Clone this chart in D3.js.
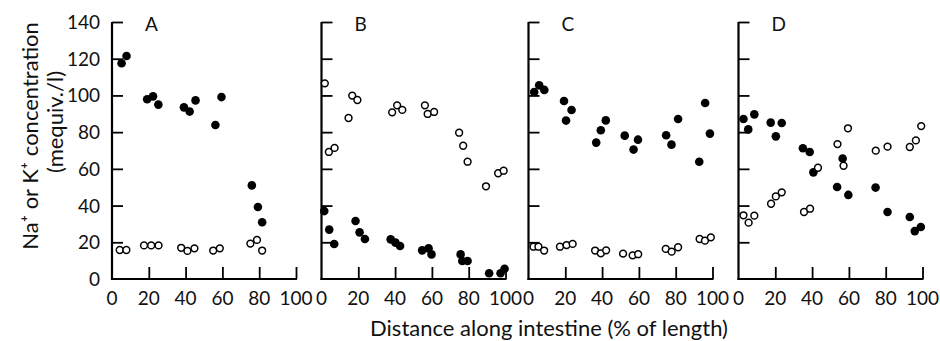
<!DOCTYPE html>
<html><head><meta charset="utf-8">
<script src="https://cdn.jsdelivr.net/npm/d3@7"></script>
<style>html,body{margin:0;padding:0;background:#fff;}svg{display:block;}</style>
</head><body>
<script>
const panelNames = ["A","B","C","D"];
const xTicks = [0,20,40,60,80,100];
const yTicks = [0,20,40,60,80,100,120,140];
const yTitle1 = "Na⁺ or K⁺ concentration";
const yTitle2 = "(mequiv./l)";
const xTitle = "Distance along intestine (% of length)";

const aFilled = [[5.2,117.5],[7.9,121.5],[19.1,97.9],[22.3,99.5],[25.2,95],[39.1,93.5],[42.2,91.2],[45.4,97.3],[56.2,83.9],[59.5,99.1],[76,51],[79.3,39.2],[81.6,30.9]];
const aOpen = [[4.2,15.8],[7.8,15.8],[17.4,18.3],[21.3,18.3],[25.3,18.3],[37.6,17],[41,15.3],[44.8,16.7],[55,15.5],[58.6,16.7],[75.2,19.3],[78.8,21.3],[81.6,15.5]];
const bFilled = [[1.5,37],[4.2,26.9],[6.9,19.1],[18.5,31.6],[20.7,25.4],[23.6,21.8],[37.6,21.6],[40.2,19.8],[42.7,18],[54.7,15.6],[58.2,16.7],[59.8,13.4],[75.6,13.4],[76.5,9.8],[79.4,9.8],[91.1,3.1],[97.3,3.1],[99.5,5.6]];
const bOpen = [[1.8,106.6],[4,69.2],[7.1,71.4],[14.7,87.7],[16.7,99.9],[19.5,97.5],[38.4,90.8],[41.1,94.6],[43.9,92.1],[56.2,94.6],[57.7,89.9],[61.2,91],[74.8,79.7],[77,72.6],[79.4,63.9],[89.4,50.5],[96,57.6],[99,59]];
const cFilled = [[3.1,101.9],[5.8,105.5],[8.6,103],[19.3,97],[20.4,86.3],[23.4,92.1],[36.8,74.3],[39.3,81],[42,86.4],[52.3,78.1],[57.1,70.5],[59.5,75.9],[74.8,78.3],[77.7,73.2],[81.3,87.2],[92.8,63.9],[96,95.9],[98.6,79.2]];
const cOpen = [[2.7,17.6],[5.4,17.6],[8.5,15.5],[17.1,17.6],[20.7,18.5],[24,19.1],[36.2,15.5],[39.3,14],[42.2,15.6],[51.4,13.8],[56.6,12.9],[59.6,13.5],[74.6,16.4],[77.8,14.9],[81.3,17.3],[93,21.8],[95.9,20.9],[99.1,22.7]];
const dFilled = [[2.7,87.2],[5.3,81.5],[8.6,89.7],[17.5,85.2],[20.3,77.7],[23.5,85],[35,71.2],[38.7,69.2],[40.7,58.1],[53.6,50.1],[56.6,65.6],[59.7,45.8],[74.5,49.8],[81,36.5],[93.1,33.8],[95.8,26.1],[99.1,28.3]];
const dOpen = [[2.7,34.7],[5.5,30.7],[8.6,34.5],[17.7,41],[20.3,45],[23.5,47.2],[35.6,36.5],[38.9,38.3],[43.2,60.6],[53.8,73.5],[57.1,61.7],[59.5,82.1],[74.6,69.9],[81,72.1],[93.1,71.9],[96.4,75.5],[99.3,83.3]];

const filledSets = [aFilled,bFilled,cFilled,dFilled];
const openSets = [aOpen,bOpen,cOpen,dOpen];

const W = 940, H = 341;
const font = "Lato, 'Open Sans', sans-serif";
const svg = d3.select("body").append("svg").attr("width",W).attr("height",H);

const y = d3.scaleLinear().domain([0,140]).range([279,22]);
const panelX0 = [112, 321.5, 528.5, 738.5];
const panelW = 184;

panelNames.forEach((name,i)=>{
  const x = d3.scaleLinear().domain([0,100]).range([panelX0[i], panelX0[i]+panelW]);
  const g = svg.append("g");
  const ya = g.append("g").attr("transform",`translate(${panelX0[i]},0)`)
    .call(d3.axisRight(y).tickValues(yTicks).tickSize(11).tickFormat(""));
  ya.select(".domain").remove();
  ya.selectAll(".tick line").attr("stroke","#000").attr("stroke-width",1.8);
  ya.selectAll(".tick").filter(d=>d===0).remove();
  g.append("line").attr("x1",panelX0[i]).attr("x2",panelX0[i])
    .attr("y1",y(0)+1).attr("y2",y(140)).attr("stroke","#000").attr("stroke-width",2.2);
  const xa = g.append("g").attr("transform",`translate(0,${y(0)})`)
    .call(d3.axisTop(x).tickValues(xTicks).tickSize(12).tickFormat(""));
  xa.select(".domain").remove();
  xa.selectAll(".tick line").attr("stroke","#000").attr("stroke-width",1.8);
  xa.selectAll(".tick").filter(d=>d===0).remove();
  g.append("line").attr("x1",panelX0[i]-1).attr("x2",x(100)+1)
    .attr("y1",y(0)).attr("y2",y(0)).attr("stroke","#000").attr("stroke-width",2.2);
  g.selectAll("text.xt").data(xTicks).enter().append("text")
    .attr("x",d=>x(d)).attr("y",305).attr("text-anchor","middle")
    .attr("font-family",font).attr("font-size",19).attr("fill","#111").text(d=>d);
  g.append("text").attr("x",x(0)+33).attr("y",31).attr("font-family",font)
    .attr("font-size",19).attr("fill","#111").text(name);
  g.selectAll("circle.f").data(filledSets[i]).enter().append("circle")
    .attr("cx",d=>x(d[0])).attr("cy",d=>y(d[1])).attr("r",4.3).attr("fill","#000");
  g.selectAll("circle.o").data(openSets[i]).enter().append("circle")
    .attr("cx",d=>x(d[0])).attr("cy",d=>y(d[1])).attr("r",3.4)
    .attr("fill","#fff").attr("stroke","#000").attr("stroke-width",1.5);
});

svg.selectAll("text.yt").data(yTicks).enter().append("text")
  .attr("x",100).attr("y",d=>y(d)+7).attr("text-anchor","end")
  .attr("font-family",font).attr("font-size",19).attr("fill","#111").text(d=>d);

svg.append("text").attr("transform","translate(38,136) rotate(-90)")
  .attr("text-anchor","middle").attr("font-family",font).attr("font-size",22)
  .attr("fill","#111").text(yTitle1);
svg.append("text").attr("transform","translate(63,122) rotate(-90)")
  .attr("text-anchor","middle").attr("font-family",font).attr("font-size",22)
  .attr("fill","#111").text(yTitle2);

svg.append("text").attr("x",549).attr("y",336).attr("text-anchor","middle")
  .attr("font-family",font).attr("font-size",22).attr("fill","#111").text(xTitle);
</script>
</body></html>
